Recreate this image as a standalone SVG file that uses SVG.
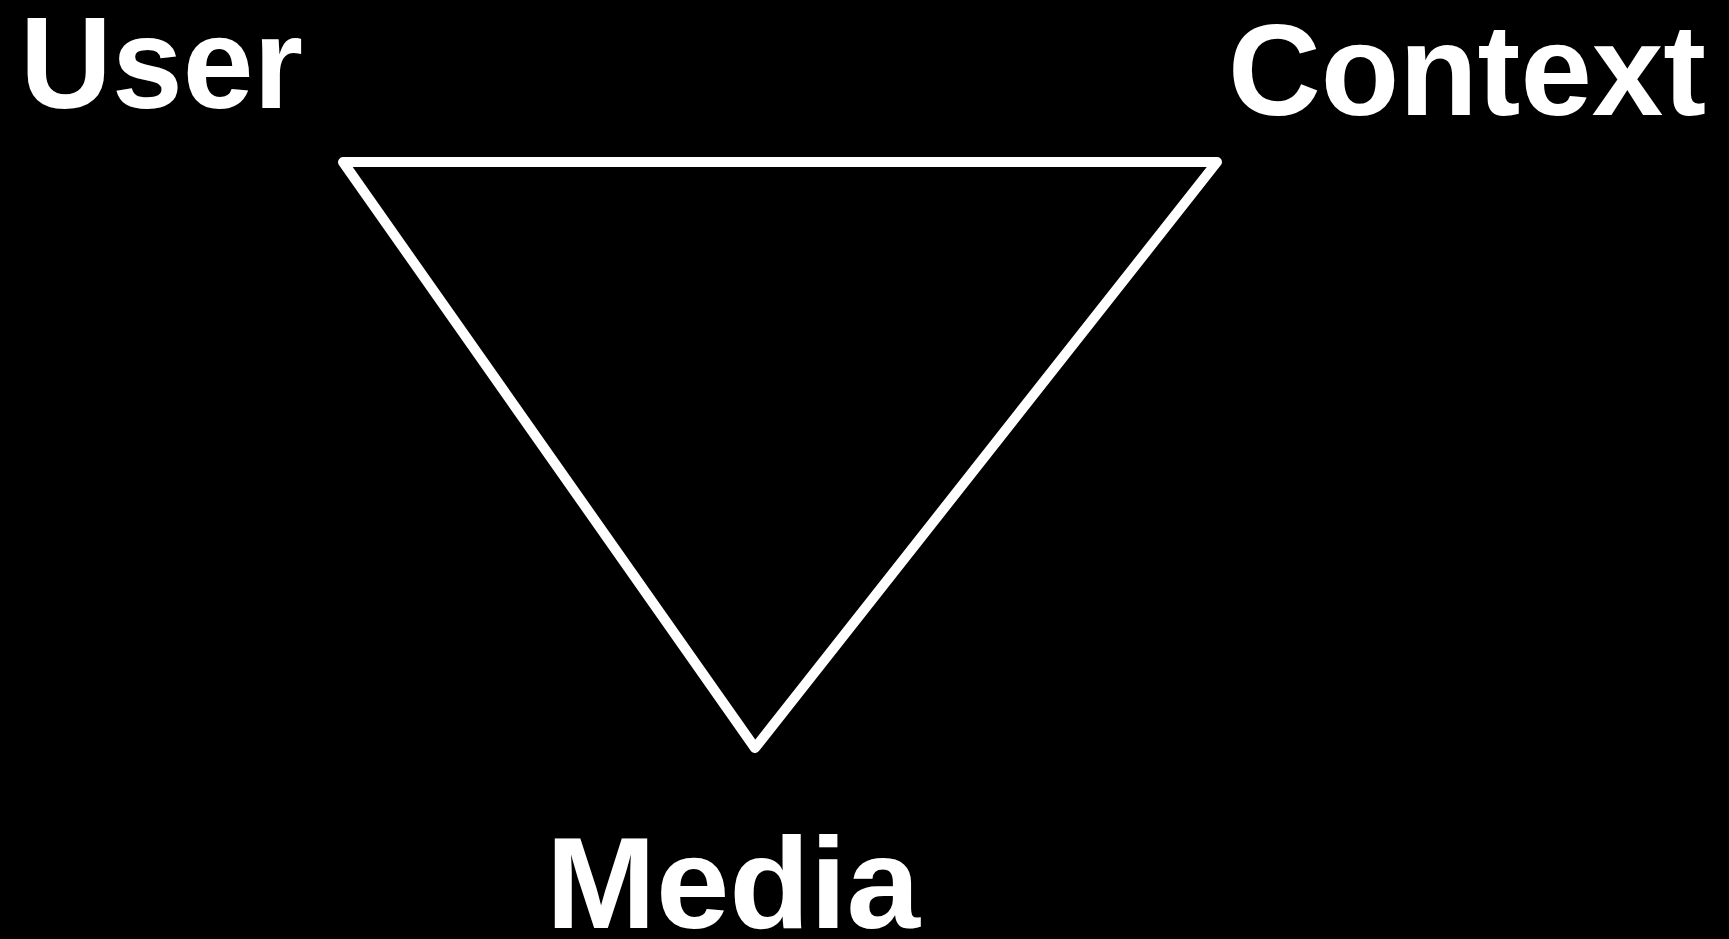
<svg xmlns="http://www.w3.org/2000/svg" width="1729" height="939" viewBox="0 0 1729 939">
<style>
.lbl{font-family:"Liberation Sans",Arial,sans-serif;font-weight:bold;font-size:130px;fill:#fff}
.edge{stroke:#fff;stroke-width:10;fill:none;stroke-linejoin:round;stroke-linecap:round}
</style>
<rect width="1729" height="939" fill="#000"/>
<g id="connectors">
<path class="edge" d="M343,162 L1217,162 L755,748 Z"/>
</g>
<g id="user"><text class="lbl" x="20" y="108" textLength="283" lengthAdjust="spacingAndGlyphs">User</text></g>
<g id="context"><text class="lbl" x="1228" y="115" textLength="478" lengthAdjust="spacingAndGlyphs">Context</text></g>
<g id="media"><text class="lbl" x="546" y="928" textLength="374" lengthAdjust="spacingAndGlyphs">Media</text></g>
</svg>
